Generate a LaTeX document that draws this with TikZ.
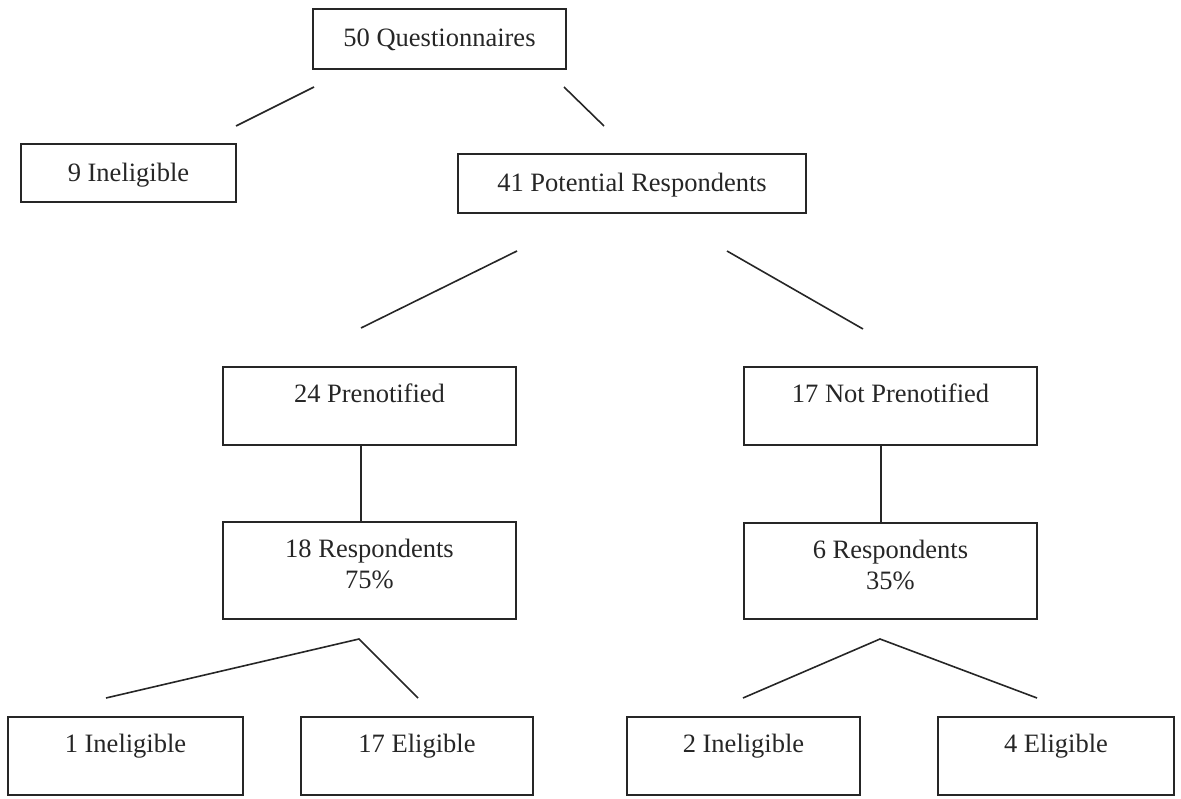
\documentclass[tikz,border=0pt]{standalone}
\usepackage{fontspec}
\setmainfont{Liberation Serif}
\definecolor{ink}{HTML}{262626}
\begin{document}
\begin{tikzpicture}[x=1pt, y=-1pt,
  box/.style={draw=ink, line width=1.5pt, rectangle, inner sep=0pt},
  lbl/.style={text=ink, font=\fontsize{26.5}{31}\selectfont, inner sep=0pt, anchor=base},
  link/.style={draw=ink, line width=1.6pt, line join=miter}]
\useasboundingbox (0,0) rectangle (1181,799);

% boxes: centre, width, height
\node[box, minimum width=253pt, minimum height=60pt] (q)   at (439.5,39)  {};
\node[box, minimum width=215pt, minimum height=58pt] (i9)  at (128.5,173) {};
\node[box, minimum width=348pt, minimum height=59pt] (pr)  at (632,183.5) {};
\node[box, minimum width=293pt, minimum height=78pt] (pn)  at (369.5,406) {};
\node[box, minimum width=293pt, minimum height=78pt] (np)  at (890.5,406) {};
\node[box, minimum width=293pt, minimum height=97pt] (r18) at (369.5,570.5) {};
\node[box, minimum width=293pt, minimum height=96pt] (r6)  at (890.5,571) {};
\node[box, minimum width=235pt, minimum height=78pt] (i1)  at (125.5,756) {};
\node[box, minimum width=232pt, minimum height=78pt] (e17) at (417,756) {};
\node[box, minimum width=233pt, minimum height=78pt] (i2)  at (743.5,756) {};
\node[box, minimum width=236pt, minimum height=78pt] (e4)  at (1056,756) {};

% labels, set on a baseline near the top of each box
\node[lbl] (q-t)   at ([yshift=-38pt]q.north)   {50 Questionnaires};
\node[lbl] (i9-t)  at ([yshift=-38pt]i9.north)  {9 Ineligible};
\node[lbl] (pr-t)  at ([yshift=-38pt]pr.north)  {41 Potential Respondents};
\node[lbl] (pn-t)  at ([yshift=-36pt]pn.north)  {24 Prenotified};
\node[lbl] (np-t)  at ([yshift=-36pt]np.north)  {17 Not Prenotified};
\node[lbl] (r18-t) at ([yshift=-36pt]r18.north) {18 Respondents};
\node[lbl] (r18-p) at ([yshift=-67pt]r18.north) {75\%};
\node[lbl] (r6-t)  at ([yshift=-36pt]r6.north)  {6 Respondents};
\node[lbl] (r6-p)  at ([yshift=-67pt]r6.north)  {35\%};
\node[lbl] (i1-t)  at ([yshift=-36pt]i1.north)  {1 Ineligible};
\node[lbl] (e17-t) at ([yshift=-36pt]e17.north) {17 Eligible};
\node[lbl] (i2-t)  at ([yshift=-36pt]i2.north)  {2 Ineligible};
\node[lbl] (e4-t)  at ([yshift=-36pt]e4.north)  {4 Eligible};

% free-standing branch strokes
\coordinate (qa) at (314,87);  \coordinate (qb) at (236,126);
\coordinate (qc) at (564,87);  \coordinate (qd) at (604,126);
\coordinate (pa) at (517,251); \coordinate (pb) at (361,328);
\coordinate (pc) at (727,251); \coordinate (pd) at (863,329);
\coordinate (ra) at (106,698); \coordinate (rt) at (359,639); \coordinate (rb) at (418,698);
\coordinate (sa) at (743,698); \coordinate (st) at (880,639); \coordinate (sb) at (1037,698);

\draw[link] (qa) -- (qb);
\draw[link] (qc) -- (qd);
\draw[link] (pa) -- (pb);
\draw[link] (pc) -- (pd);
\draw[link] (ra) -- (rt) -- (rb);
\draw[link] (sa) -- (st) -- (sb);

% vertical links between stacked boxes
\draw[link] ([xshift=-8.5pt]pn.south) -- ([xshift=-8.5pt]r18.north);
\draw[link] ([xshift=-9.5pt]np.south) -- ([xshift=-9.5pt]r6.north);
\end{tikzpicture}
\end{document}
